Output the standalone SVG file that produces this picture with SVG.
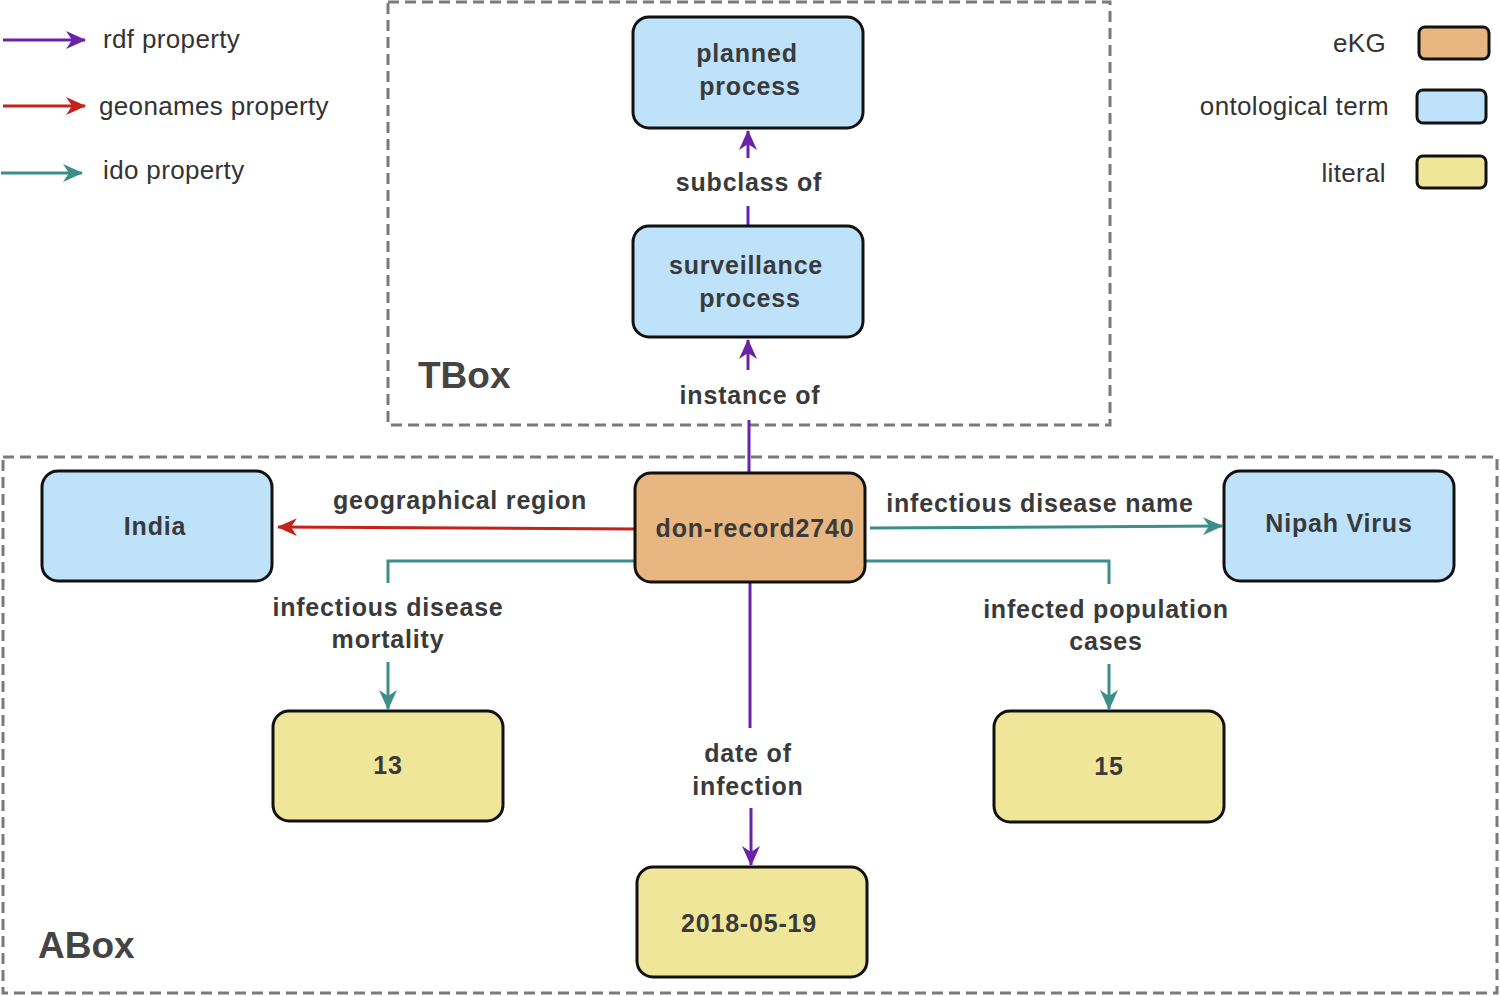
<svg xmlns="http://www.w3.org/2000/svg" width="1500" height="996" viewBox="0 0 1500 996">
<style>
.node rect{stroke:#111;stroke-width:3}
.blue{fill:#bfe2fb}.orange{fill:#e8b680}.yellow{fill:#f0e69a}
.nt{font-family:"Liberation Sans",Arial,sans-serif;font-weight:bold;font-size:25px;letter-spacing:0.8px;fill:#3a3a3a;text-anchor:middle}
.lt{font-family:"Liberation Sans",Arial,sans-serif;font-weight:bold;font-size:25px;letter-spacing:0.8px;fill:#3a3a3a;text-anchor:middle}
.leg{font-family:"Liberation Sans",Arial,sans-serif;font-size:26px;letter-spacing:0.35px;fill:#333}
.box{fill:none;stroke:#7a7a7a;stroke-width:3;stroke-dasharray:11 6}
.big{font-family:"Liberation Sans",Arial,sans-serif;font-weight:bold;font-size:37px;fill:#444}
.p{stroke:#6a22a8;stroke-width:3;fill:none}
.r{stroke:#c4231c;stroke-width:3;fill:none}
.t{stroke:#3b8e89;stroke-width:3;fill:none}
</style>
<defs>
<marker id="ap" markerUnits="userSpaceOnUse" markerWidth="20" markerHeight="18" viewBox="0 0 20 18" refX="19" refY="9" orient="auto"><path d="M0,0 L20,9 L0,18 L6,9 z" fill="#6a22a8"/></marker>
<marker id="ar" markerUnits="userSpaceOnUse" markerWidth="20" markerHeight="18" viewBox="0 0 20 18" refX="19" refY="9" orient="auto"><path d="M0,0 L20,9 L0,18 L6,9 z" fill="#c4231c"/></marker>
<marker id="at" markerUnits="userSpaceOnUse" markerWidth="20" markerHeight="18" viewBox="0 0 20 18" refX="19" refY="9" orient="auto"><path d="M0,0 L20,9 L0,18 L6,9 z" fill="#3b8e89"/></marker>
</defs>
<rect width="1500" height="996" fill="#fff"/>
<g id="tbox"><rect class="box" x="388" y="2" width="722" height="423"/><text class="big" x="418" y="388">TBox</text></g>
<g id="abox"><rect class="box" x="3" y="457" width="1494" height="536"/><text class="big" x="38" y="958">ABox</text></g>
<g id="legend">
<line class="p" x1="3" y1="40" x2="85" y2="40" marker-end="url(#ap)"/><text class="leg" x="103" y="48">rdf property</text>
<line class="r" x1="3" y1="106" x2="85" y2="106" marker-end="url(#ar)"/><text class="leg" x="99" y="115">geonames property</text>
<line class="t" x1="1" y1="173" x2="82" y2="173" marker-end="url(#at)"/><text class="leg" x="103" y="179">ido property</text>
<text class="leg" x="1386" y="52" text-anchor="end">eKG</text><rect class="orange" x="1419" y="27" width="70" height="32" rx="6" stroke="#111" stroke-width="3"/>
<text class="leg" x="1389" y="115" text-anchor="end">ontological term</text><rect class="blue" x="1417" y="90" width="69" height="33" rx="6" stroke="#111" stroke-width="3"/>
<text class="leg" x="1386" y="182" text-anchor="end">literal</text><rect class="yellow" x="1417" y="156" width="69" height="32" rx="6" stroke="#111" stroke-width="3"/>
</g>
<g id="connectors">
<line class="p" x1="748" y1="226" x2="748" y2="206"/><line class="p" x1="748" y1="158" x2="748" y2="131" marker-end="url(#ap)"/>
<text class="lt" x="749" y="191">subclass of</text>
<line class="p" x1="749" y1="473" x2="749" y2="420"/><line class="p" x1="748" y1="370" x2="748" y2="340" marker-end="url(#ap)"/>
<text class="lt" x="750" y="404">instance of</text>
<line class="r" x1="635" y1="529" x2="278" y2="527" marker-end="url(#ar)"/>
<text class="lt" x="460" y="509">geographical region</text>
<line class="t" x1="870" y1="528" x2="1222" y2="526" marker-end="url(#at)"/>
<text class="lt" x="1040" y="512">infectious disease name</text>
<polyline class="t" points="635,561 388,561 388,583"/><line class="t" x1="388" y1="662" x2="388" y2="709" marker-end="url(#at)"/>
<text class="lt" x="388" y="616">infectious disease</text><text class="lt" x="388" y="648">mortality</text>
<polyline class="t" points="865,561 1109,561 1109,584"/><line class="t" x1="1109" y1="664" x2="1109" y2="709" marker-end="url(#at)"/>
<text class="lt" x="1106" y="618">infected population</text><text class="lt" x="1106" y="650">cases</text>
<line class="p" x1="750" y1="582" x2="750" y2="728"/><line class="p" x1="751" y1="808" x2="751" y2="865" marker-end="url(#ap)"/>
<text class="lt" x="748" y="762">date of</text><text class="lt" x="748" y="795">infection</text>
</g>
<g id="n-planned" class="node"><rect class="blue" x="633" y="17" width="230" height="111" rx="16"/><text class="nt" x="747" y="62">planned</text><text class="nt" x="750" y="95">process</text></g>
<g id="n-surveillance" class="node"><rect class="blue" x="633" y="226" width="230" height="111" rx="16"/><text class="nt" x="746" y="274">surveillance</text><text class="nt" x="750" y="307">process</text></g>
<g id="n-don" class="node"><rect class="orange" x="635" y="473" width="230" height="109" rx="16"/><text class="nt" x="755" y="537">don-record2740</text></g>
<g id="n-india" class="node"><rect class="blue" x="42" y="471" width="230" height="110" rx="16"/><text class="nt" x="155" y="535">India</text></g>
<g id="n-nipah" class="node"><rect class="blue" x="1224" y="471" width="230" height="110" rx="16"/><text class="nt" x="1339" y="532">Nipah Virus</text></g>
<g id="n-13" class="node"><rect class="yellow" x="273" y="711" width="230" height="110" rx="16"/><text class="nt" x="388" y="774">13</text></g>
<g id="n-15" class="node"><rect class="yellow" x="994" y="711" width="230" height="111" rx="16"/><text class="nt" x="1109" y="775">15</text></g>
<g id="n-date" class="node"><rect class="yellow" x="637" y="867" width="230" height="110" rx="16"/><text class="nt" x="749" y="932">2018-05-19</text></g>
</svg>
